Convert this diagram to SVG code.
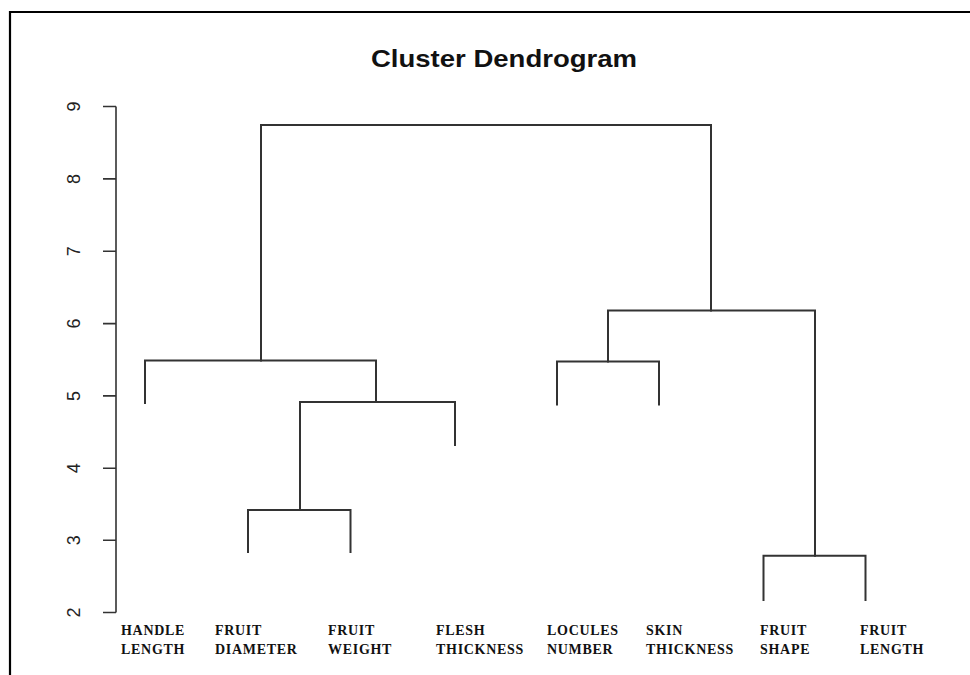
<svg xmlns="http://www.w3.org/2000/svg" width="970" height="675" viewBox="0 0 970 675">
<style>
.frame{stroke:#000;stroke-width:2.2;fill:none}
.ln{stroke:#333;stroke-width:2;fill:none;stroke-linecap:square}
.ax{stroke:#333;stroke-width:1.6;fill:none}
.tick{font-family:"Liberation Sans",Arial,sans-serif;font-size:18px;fill:#222}
.lab{font-family:"Liberation Serif","Times New Roman",serif;font-size:14px;font-weight:bold;fill:#111;letter-spacing:0.7px}
.title{font-family:"Liberation Sans",Arial,sans-serif;font-size:24px;font-weight:bold;fill:#111}
</style>
<rect width="970" height="675" fill="#fff"/>
<path class="frame" d="M10,675 V12 H970"/>
<text class="title" x="371" y="67" textLength="266" lengthAdjust="spacingAndGlyphs">Cluster Dendrogram</text>
<g id="axis">
<path class="ax" d="M116,106.5 V612.5 M103,106.5 H116 M103,178.9 H116 M103,251.2 H116 M103,323.6 H116 M103,395.9 H116 M103,468.2 H116 M103,540.2 H116 M103,612.5 H116"/>
<text class="tick" transform="translate(80,106.5) rotate(-90)" text-anchor="middle">9</text>
<text class="tick" transform="translate(80,178.9) rotate(-90)" text-anchor="middle">8</text>
<text class="tick" transform="translate(80,251.2) rotate(-90)" text-anchor="middle">7</text>
<text class="tick" transform="translate(80,323.6) rotate(-90)" text-anchor="middle">6</text>
<text class="tick" transform="translate(80,395.9) rotate(-90)" text-anchor="middle">5</text>
<text class="tick" transform="translate(80,468.2) rotate(-90)" text-anchor="middle">4</text>
<text class="tick" transform="translate(80,540.2) rotate(-90)" text-anchor="middle">3</text>
<text class="tick" transform="translate(80,612.5) rotate(-90)" text-anchor="middle">2</text>
</g>
<g id="connectors">
<path class="ln" d="M261,360.5 V125 H711 V310.5"/>
<path class="ln" d="M145,403 V360.5 H376 V402"/>
<path class="ln" d="M300,510 V402 H455 V445"/>
<path class="ln" d="M248,552 V510 H350.5 V552"/>
<path class="ln" d="M608,361.5 V310.5 H815 V555.7"/>
<path class="ln" d="M557,404.5 V361.5 H659 V404.5"/>
<path class="ln" d="M763.5,600 V555.7 H865.5 V600"/>
</g>
<g id="n-handle-length"><text class="lab" x="121" y="635">HANDLE</text><text class="lab" x="121" y="654">LENGTH</text></g>
<g id="n-fruit-diameter"><text class="lab" x="215" y="635">FRUIT</text><text class="lab" x="215" y="654">DIAMETER</text></g>
<g id="n-fruit-weight"><text class="lab" x="328" y="635">FRUIT</text><text class="lab" x="328" y="654">WEIGHT</text></g>
<g id="n-flesh-thickness"><text class="lab" x="436" y="635">FLESH</text><text class="lab" x="436" y="654">THICKNESS</text></g>
<g id="n-locules-number"><text class="lab" x="547" y="635">LOCULES</text><text class="lab" x="547" y="654">NUMBER</text></g>
<g id="n-skin-thickness"><text class="lab" x="646" y="635">SKIN</text><text class="lab" x="646" y="654">THICKNESS</text></g>
<g id="n-fruit-shape"><text class="lab" x="760" y="635">FRUIT</text><text class="lab" x="760" y="654">SHAPE</text></g>
<g id="n-fruit-length"><text class="lab" x="860" y="635">FRUIT</text><text class="lab" x="860" y="654">LENGTH</text></g>
</svg>
